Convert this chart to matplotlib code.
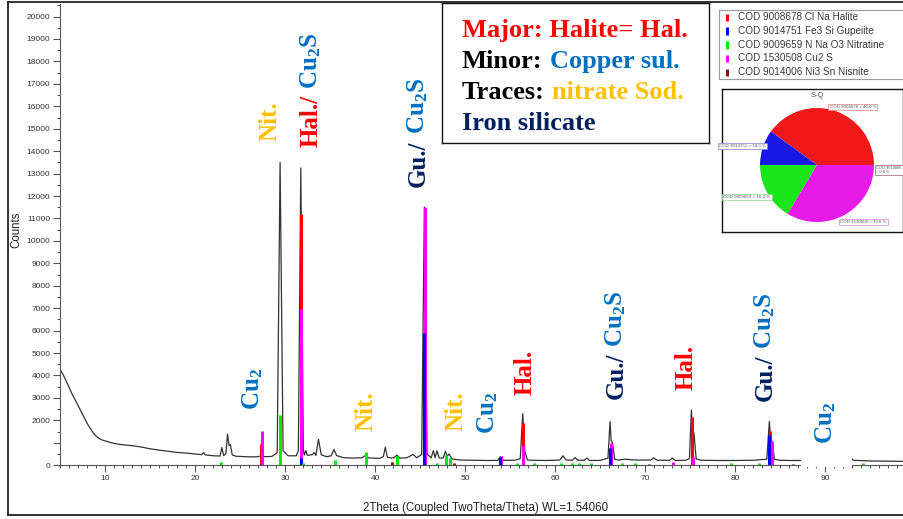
import matplotlib
matplotlib.use("Agg")
import matplotlib.pyplot as plt
from matplotlib.lines import Line2D
from matplotlib.ticker import MultipleLocator, FixedLocator, FixedFormatter

plt.rcParams['mathtext.fontset'] = 'custom'
plt.rcParams['mathtext.rm'] = 'Liberation Serif:bold'
plt.rcParams['mathtext.bf'] = 'Liberation Serif:bold'
plt.rcParams['mathtext.it'] = 'Liberation Serif:bold:italic'

# ---------------- data ----------------
two_theta = [5.0, 5.3, 5.6, 6.0, 6.4, 6.8, 7.2, 7.6, 8.0, 8.4, 8.8, 9.2, 9.6, 10.0,
             10.6, 11.2, 12.0, 13.0, 14.0, 15.0, 16.0, 17.0, 18.0, 19.0, 20.0,
             20.7, 20.9, 21.1, 22.0, 22.75, 22.95, 23.15, 23.4, 23.58, 23.75, 23.9,
             24.1, 24.5, 25.5, 26.5, 27.0, 27.35, 27.7, 28.5, 29.1, 29.42, 29.75,
             30.3, 31.2, 31.45, 31.72, 32.0, 32.12, 32.28, 32.45, 33.0, 33.2, 33.4,
             33.68, 34.0, 34.6, 35.1, 35.4, 35.7, 36.5, 37.5, 38.5, 38.9, 39.3,
             40.5, 40.9, 41.1, 41.35, 41.8, 42.1, 42.4, 42.7, 43.5, 44.2, 44.6,
             45.15, 45.45, 45.75, 46.2, 46.45, 46.65, 46.85, 47.1, 47.55, 47.78,
             48.0, 48.2, 48.5, 49.5, 51.0, 52.5, 53.6, 53.9, 54.2, 55.5, 56.1,
             56.38, 56.6, 56.9, 57.5, 59.0, 60.5, 60.85, 61.2, 61.9, 62.2, 62.5,
             63.2, 63.5, 63.8, 65.0, 65.85, 66.08, 66.2, 66.35, 66.6, 67.0, 67.8,
             68.5, 69.0, 70.6, 70.9, 71.3, 72.7, 73.0, 73.3, 74.5, 74.9, 75.12,
             75.28, 75.4, 75.65, 76.2, 78.0, 80.0, 82.0, 83.5, 83.78, 83.95, 84.08,
             84.35, 85.0, 86.0, 87.3, 90.0, 92.5, 92.85, 93.1, 95.0, 97.0, 98.8]
counts = [4250, 4050, 3800, 3450, 3100, 2800, 2480, 2150, 1850, 1600, 1370, 1220, 1130, 1080,
          1010, 950, 910, 870, 810, 730, 670, 620, 570, 540, 500,
          470, 560, 460, 420, 410, 790, 430, 520, 1390, 880, 920,
          460, 400, 380, 370, 380, 440, 380, 390, 560, 13500, 650,
          420, 420, 650, 13250, 700, 450, 650, 440, 470, 570, 430,
          1150, 460, 380, 420, 700, 430, 330, 320, 330, 430, 320,
          310, 380, 800, 350, 320, 340, 450, 320, 330, 480, 330,
          480, 11510, 500, 330, 650, 330, 640, 320, 320, 620,
          400, 500, 280, 230, 220, 210, 215, 380, 220, 220, 290,
          2300, 650, 230, 220, 210, 230, 420, 230, 220, 340, 220,
          220, 320, 210, 215, 320, 1950, 1100, 1000, 260, 230, 270,
          240, 230, 230, 330, 220, 220, 320, 210, 220, 300, 2460,
          1300, 1450, 280, 220, 210, 210, 220, 270, 1950, 1000, 1080,
          260, 220, 210, 210, 200, 200, 330, 220, 190, 180, 170]

# reference patterns (stick positions / heights)
halite_pos = [27.35, 31.72, 45.47, 53.90, 56.40, 66.10, 75.15, 83.82]
halite_h = [930, 11180, 6900, 250, 1890, 650, 2160, 1520]
cu2s_pos = [27.40, 31.76, 45.49, 53.93, 56.45, 66.20, 73.05, 75.30, 84.05]
cu2s_h = [1520, 6965, 11510, 400, 850, 1000, 150, 350, 1080]
gupeiite_pos = [31.70, 45.40, 53.88, 66.05, 83.75]
gupeiite_h = [300, 5900, 380, 785, 1330]
nitratine_pos = [22.90, 29.42, 31.95, 35.50, 38.95, 42.45, 46.90, 47.80, 48.25, 55.70,
                 57.60, 60.60, 61.90, 62.60, 64.00, 67.40, 68.90, 79.50, 82.60, 94.20]
nitratine_h = [150, 2260, 120, 250, 590, 410, 100, 450, 300, 120,
               100, 90, 100, 90, 110, 80, 90, 80, 90, 80]
nisnite_pos = [41.85, 48.70, 70.40, 86.40]
nisnite_h = [130, 90, 60, 60]

legend_labels = ["COD 9008678 Cl Na Halite", "COD 9014751 Fe3 Si Gupeiite",
                 "COD 9009659 N Na O3 Nitratine", "COD 1530508 Cu2 S",
                 "COD 9014006 Ni3 Sn Nisnite"]
phase_colors = ["#FF0000", "#0000FF", "#00EE00", "#FF00FF", "#8B1010"]

pie_values = [40.0, 10.0, 16.4, 33.6, 0.0]
pie_labels = ["COD 9008678 = 40.0 %", "COD 9014751 = 10.0 %", "COD 9009659 = 16.4 %",
              "COD 1530508 = 33.6 %", "COD 9014006\n= 0.0 %"]
pie_colors = ["#F01818", "#1818E6", "#18E618", "#E81AE8", "#8B1010"]

y_ticks = list(range(0, 20001, 1000))
y_tick_labels = ["" if v == 1000 else str(v) for v in y_ticks]

# ---------------- layout helpers ----------------
W, H = 904, 519
fig = plt.figure(figsize=(W / 100, H / 100), dpi=100)


def fx(px):
    return px / W


def fy(py):
    return 1 - py / H


SERIF = "Liberation Serif"
SANS = "Liberation Sans"

# ---------------- main diffractogram ----------------
ax = fig.add_axes([fx(60), fy(465.2), (904 - 60) / W, (465.2 - 4) / H])
ax.set_xlim(4.967, 98.74)
ax.set_ylim(0, 20560)

ax.plot(two_theta, counts, color="#333333", lw=0.9, zorder=2)

for pos, hts, col in [(halite_pos, halite_h, phase_colors[0]),
                      (cu2s_pos, cu2s_h, phase_colors[3]),
                      (gupeiite_pos, gupeiite_h, phase_colors[1]),
                      (nitratine_pos, nitratine_h, phase_colors[2]),
                      (nisnite_pos, nisnite_h, phase_colors[4])]:
    ax.vlines(pos, 0, hts, colors=col, lw=2.2, zorder=3)

# blank patch behind the label near 90 degrees
ax.axvspan(87.35, 93.0, ymin=-0.004, ymax=0.17, facecolor="white",
           edgecolor="none", zorder=4, clip_on=False)

for side in ("top", "right"):
    ax.spines[side].set_visible(False)
for side in ("left", "bottom"):
    ax.spines[side].set_color("#555555")
    ax.spines[side].set_linewidth(0.8)

ax.xaxis.set_major_locator(MultipleLocator(10))
ax.xaxis.set_minor_locator(MultipleLocator(1))
ax.yaxis.set_major_locator(FixedLocator(y_ticks))
ax.yaxis.set_major_formatter(FixedFormatter(y_tick_labels))
ax.yaxis.set_minor_locator(MultipleLocator(500))
ax.tick_params(which="major", length=5, width=0.8, color="#555555",
               labelsize=6, labelcolor="#333333", pad=2)
ax.tick_params(which="minor", length=2.5, width=0.8, color="#555555")
for lab in ax.get_xticklabels() + ax.get_yticklabels():
    lab.set_fontfamily(SANS)

fig.text(fx(486), fy(508), "2Theta (Coupled TwoTheta/Theta) WL=1.54060",
         ha="center", va="center", fontsize=8.3, family=SANS, color="#222222")
fig.text(fx(16), fy(230), "Counts", rotation=90, ha="center", va="center",
         fontsize=8.3, family=SANS, color="#222222")

# ---------------- peak annotations ----------------
BLUE = "#0070C0"
ORANGE = "#FFC000"
NAVY = "#002060"
RED = "#FF0000"
CU2 = r"Cu$_\mathbf{2}$"
CU2S = r"Cu$_\mathbf{2}$S"


def peak_label(x, y, parts, size=18):
    kw = dict(rotation=90, ha="center", va="bottom", fontsize=size,
              family=SERIF, fontweight="bold", zorder=6)
    prev = ax.text(x, y, parts[0][0], color=parts[0][1], **kw)
    for s, c in parts[1:]:
        prev = ax.annotate(s, xy=(0.5, 1), xycoords=prev, xytext=(0, 4.5),
                           textcoords="offset points", color=c, **kw)


peak_label(26.4, 2480, [(CU2, BLUE)])
peak_label(28.3, 14460, [("Nit.", ORANGE)])
peak_label(32.85, 14190, [("Hal./", RED), (CU2S, BLUE)])
peak_label(44.75, 12420, [("Gu./", NAVY), (CU2S, BLUE)])
peak_label(38.95, 1510, [("Nit.", ORANGE)])
peak_label(48.95, 1510, [("Nit.", ORANGE)])
peak_label(52.5, 1375, [(CU2, BLUE)])
peak_label(56.7, 3150, [("Hal.", RED)])
peak_label(66.75, 2930, [("Gu./", NAVY), (CU2S, BLUE)])
peak_label(74.5, 3370, [("Hal.", RED)])
peak_label(83.3, 2840, [("Gu./", NAVY), (CU2S, BLUE)])
peak_label(90.0, 930, [(CU2, BLUE)])

# ---------------- phase summary box ----------------
axb = fig.add_axes([fx(442), fy(143), (709 - 442) / W, (143 - 3) / H])
axb.set_xticks([])
axb.set_yticks([])
for sp in axb.spines.values():
    sp.set_color("#111111")
    sp.set_linewidth(1.0)

summary_lines = [
    [("Major: Halite= Hal.", RED)],
    [("Minor:", "black"), ("Copper sul.", BLUE)],
    [("Traces:", "black"), ("nitrate Sod.", ORANGE)],
    [("Iron silicate", NAVY)],
]
baselines = [37, 68, 99, 130]
for line, base in zip(summary_lines, baselines):
    kw = dict(fontsize=19, family=SERIF, fontweight="bold")
    prev = axb.text((462 - 442) / 267, (143 - base) / 140, line[0][0],
                    color=line[0][1], ha="left", va="baseline",
                    transform=axb.transAxes, **kw)
    for s, c in line[1:]:
        prev = axb.annotate(s, xy=(1, 0), xycoords=prev, xytext=(5, 0),
                            textcoords="offset points", ha="left",
                            va="bottom", color=c, **kw)

# ---------------- phase legend ----------------
axl = fig.add_axes([fx(719), fy(79), (910 - 719) / W, (79 - 10) / H])
axl.set_xlim(0, 191)
axl.set_ylim(69, 0)
axl.set_xticks([])
axl.set_yticks([])
for sp in axl.spines.values():
    sp.set_color("#9a9a9a")
    sp.set_linewidth(0.8)
for i, (lab, col) in enumerate(zip(legend_labels, phase_colors)):
    yy = 7 + 13.8 * i
    axl.plot([8.5, 8.5], [yy - 3.5, yy + 4], color=col, lw=2.2,
             solid_capstyle="butt")
    axl.text(19, yy, lab, ha="left", va="center", fontsize=7.2,
             family=SANS, color="#3a3a3a")

# ---------------- quantification pie ----------------
axp = fig.add_axes([fx(722), fy(232), (903 - 722) / W, (232 - 89) / H])
axp.pie(pie_values, colors=pie_colors, startangle=0, counterclock=True,
        radius=1.0, wedgeprops=dict(linewidth=0))
axp.set_aspect("auto")
axp.set_xlim(-1.667, 1.509)
axp.set_ylim(-1.175, 1.333)
axp.set_frame_on(True)
axp.set_xticks([])
axp.set_yticks([])
for sp in axp.spines.values():
    sp.set_color("#111111")
    sp.set_linewidth(1.0)
axp.text(0, 1.22, "S-Q", ha="center", va="center", fontsize=5.5,
         family=SANS, color="#555555")
pie_label_xy = [(0.63, 1.02), (-1.3, 0.33), (-1.23, -0.56), (0.82, -1.0), (1.04, -0.09)]
pie_label_ha = ["center", "center", "center", "center", "left"]
pie_label_size = [3.2, 3.2, 3.2, 3.2, 2.9]
pie_label_edge = ["#e08080", "#8080e0", "#80d080", "#d080d0", "#a06060"]
for lab, (px_, py_), ha, fs, ec in zip(pie_labels, pie_label_xy, pie_label_ha,
                                       pie_label_size, pie_label_edge):
    axp.text(px_, py_, lab, ha=ha, va="center", fontsize=fs, family=SANS,
             color="#555555", linespacing=1.0,
             bbox=dict(boxstyle="square,pad=0.25", facecolor="white",
                       edgecolor=ec, linewidth=0.5))

# ---------------- outer frame ----------------
frame_kw = dict(color="#222222", lw=1.3, transform=fig.transFigure)
fig.add_artist(Line2D([fx(8), fx(8)], [fy(2), fy(515)], **frame_kw))
fig.add_artist(Line2D([fx(8), fx(904)], [fy(515), fy(515)], **frame_kw))
fig.add_artist(Line2D([fx(8), fx(904)], [fy(2), fy(2)], **frame_kw))

fig.savefig("out.png", dpi=100)
